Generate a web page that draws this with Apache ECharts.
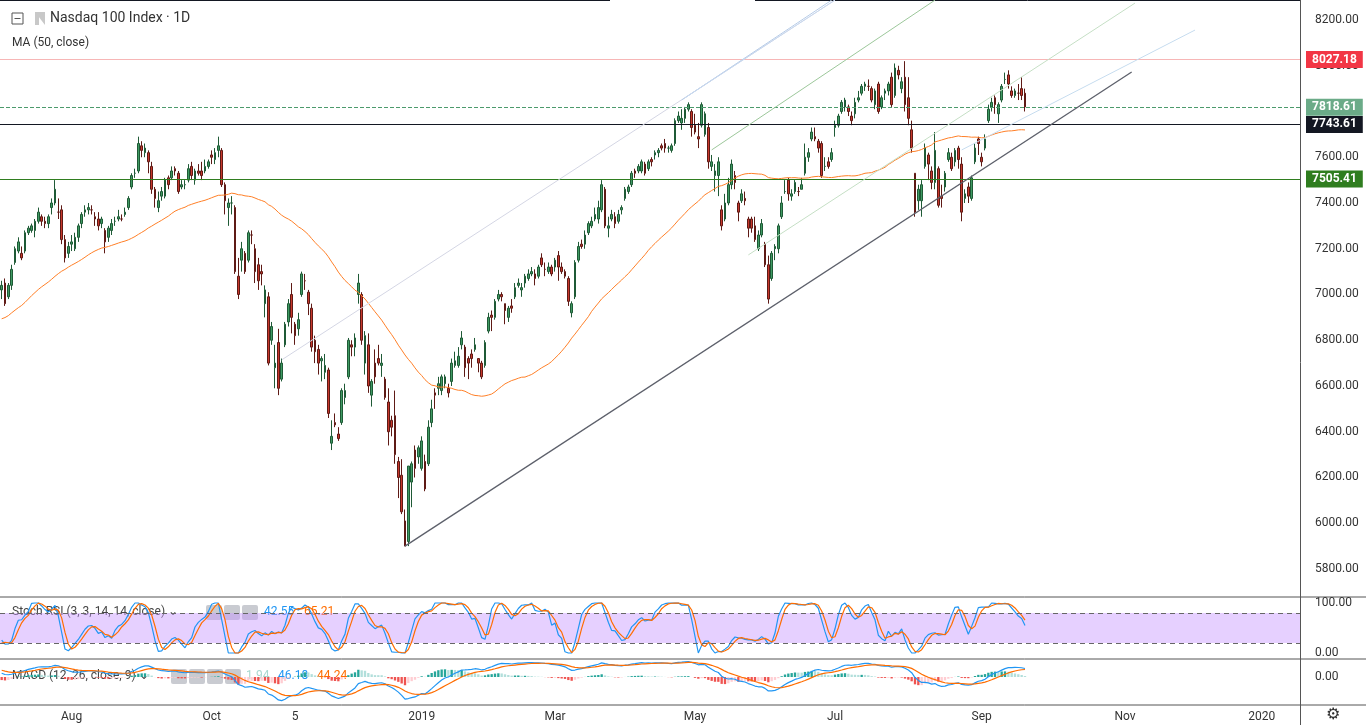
<!DOCTYPE html>
<html><head><meta charset="utf-8">
<script src="https://cdn.jsdelivr.net/npm/echarts@6/dist/echarts.min.js"></script>
<style>html,body{margin:0;padding:0;background:#fff}#c{width:1366px;height:725px}</style>
</head><body><div id="c"></div>
<script>
// closes before the visible window (only used for indicator warm-up)
const preCloses = [6780,6700,6690,6620,6500,6620,6680,6670,
6600,6560,6550,6650,6690,6740,6790,6810,6800,6810,6780,6710,6760,6720,6800,6860,6890,6900,6880,6860,6920,6930,
6970,7030,7080,7100,7060,7080,7080,7090,7160,7150,7180,7150,7190,7200,7200,7050,7060,6960,7000,7030,7040];
// daily [open, close, low, high]
const ohlc = [
[7020,7040,6980,7060],[7050,6960,6950,7070],[6990,7040,6980,7050],[7040,7110,7020,7130],
[7140,7200,7130,7210],[7190,7230,7180,7250],[7180,7160,7150,7210],[7190,7270,7180,7280],[7270,7290,7260,7300],
[7280,7300,7270,7310],[7280,7320,7250,7330],[7320,7360,7310,7380],[7340,7320,7300,7350],[7320,7310,7290,7340],
[7310,7340,7290,7350],[7380,7400,7350,7420],[7400,7460,7390,7500],[7360,7360,7330,7420],[7370,7240,7220,7390],
[7240,7160,7140,7260],[7180,7210,7160,7230],[7220,7230,7190,7260],[7200,7250,7190,7270],[7250,7300,7230,7310],
[7310,7350,7290,7360],[7360,7370,7340,7390],[7370,7380,7350,7400],[7370,7370,7350,7390],[7340,7330,7300,7360],
[7330,7300,7280,7360],[7310,7330,7290,7340],[7280,7230,7180,7290],[7250,7290,7230,7300],[7280,7310,7260,7330],
[7320,7320,7300,7340],[7330,7340,7320,7370],[7330,7330,7320,7350],[7350,7360,7340,7380],[7380,7420,7370,7430],
[7470,7520,7460,7530],[7530,7530,7510,7550],[7540,7660,7530,7690],[7650,7630,7600,7670],[7620,7640,7600,7660],
[7620,7580,7530,7630],[7560,7460,7440,7580],[7460,7420,7380,7470],[7380,7410,7360,7450],
[7430,7450,7410,7470],[7430,7500,7420,7510],[7510,7480,7460,7520],[7510,7540,7500,7560],[7550,7540,7520,7560],
[7530,7450,7440,7540],[7470,7480,7460,7500],[7480,7480,7460,7500],[7500,7550,7490,7570],[7560,7520,7500,7580],
[7500,7540,7480,7550],[7540,7530,7520,7570],[7540,7520,7500,7580],[7540,7560,7530,7590],[7560,7580,7550,7590],
[7610,7600,7570,7630],[7590,7620,7570,7640],[7630,7650,7600,7690],[7630,7480,7470,7640],[7480,7410,7350,7490],
[7380,7400,7300,7420],[7400,7400,7350,7430],[7380,7100,7090,7390],[7080,7000,6980,7160],[7150,7200,7100,7230],
[7180,7100,7090,7190],[7150,7270,7140,7280],[7260,7260,7220,7280],[7200,7100,7050,7220],[7130,7060,7020,7160],
[7100,7090,7040,7130],[6960,7020,6900,7040],[6990,6700,6690,7010],[6800,6860,6780,6880],[6680,6700,6590,6780],
[6790,6590,6560,6850],[6630,6700,6620,6720],[6780,6870,6770,6880],[6880,6960,6860,6980],[7000,6900,6830,7050],
[6870,6820,6780,6880],[6850,6890,6820,6920],[7000,7090,6990,7100],[7060,7060,7020,7090],[7010,6960,6910,7020],
[6940,6770,6750,6960],[6800,6750,6700,6820],[6760,6700,6650,6780],[6710,6720,6620,6730],[6660,6690,6630,6740],
[6670,6480,6460,6680],[6350,6380,6320,6450],[6440,6430,6420,6480],[6390,6370,6360,6420],
[6440,6580,6430,6590],[6550,6580,6520,6610],[6640,6800,6630,6810],[6780,6770,6730,6800],[6770,6810,6730,6830],
[7000,7050,6960,7090],[7000,6800,6780,7010],[6700,6820,6650,6840],[6780,6600,6570,6830],
[6560,6620,6510,6630],[6700,6640,6610,6760],[6720,6700,6690,6780],[6690,6700,6640,6740],[6630,6550,6540,6640],
[6530,6400,6340,6590],[6450,6420,6380,6470],[6470,6300,6260,6580],[6270,6200,6110,6290],[6210,6050,6040,6280],
[6010,5900,5900,6060],[5920,6250,5900,6250],[6180,6260,6070,6270],[6320,6240,6200,6340],
[6290,6330,6260,6340],
[6240,6360,6230,6380],[6270,6150,6140,6300],[6260,6420,6250,6450],
[6440,6500,6420,6540],[6570,6560,6500,6590],[6590,6610,6560,6640],[6580,6640,6560,6650],[6610,6640,6590,6650],
[6590,6570,6550,6610],[6620,6700,6600,6720],[6690,6710,6680,6750],[6690,6730,6680,6770],[6780,6810,6760,6840],
[6770,6680,6640,6780],[6720,6700,6630,6730],[6740,6720,6680,6760],[6760,6780,6750,6810],
[6720,6700,6660,6720],[6700,6640,6630,6710],[6690,6790,6680,6800],[6840,6900,6830,6920],[6910,6900,6840,6930],
[6900,6970,6890,6980],[6980,7000,6970,7020],[7000,6990,6970,7010],[6960,6930,6870,6960],[6900,6940,6880,6950],
[6950,6940,6920,6980],[6990,7030,6980,7050],[7040,7050,7030,7070],[7020,7030,6990,7050],[7050,7080,7030,7090],
[7070,7090,7060,7110],[7090,7100,7080,7120],[7090,7070,7040,7110],[7080,7120,7070,7130],
[7160,7130,7120,7180],[7110,7110,7080,7140],[7100,7120,7090,7140],[7120,7090,7080,7130],[7120,7150,7100,7160],
[7170,7120,7060,7190],[7120,7100,7090,7140],[7100,7080,7070,7110],[7070,6970,6950,7080],[6920,6960,6900,6970],
[6990,7140,6980,7150],[7150,7210,7140,7230],[7220,7210,7200,7240],[7220,7260,7200,7280],[7270,7310,7260,7320],
[7300,7320,7290,7340],[7330,7350,7320,7380],[7330,7380,7310,7410],[7370,7480,7360,7500],[7460,7300,7290,7470],
[7290,7300,7250,7340],[7330,7350,7320,7370],[7340,7310,7290,7360],[7320,7350,7310,7370],[7370,7380,7350,7390],
[7420,7460,7410,7470],[7450,7470,7440,7480],[7480,7530,7470,7540],[7540,7530,7510,7550],[7540,7560,7530,7570],
[7540,7580,7530,7590],[7570,7530,7520,7580],[7550,7580,7540,7590],[7590,7580,7560,7600],[7610,7620,7590,7630],
[7620,7630,7600,7640],[7650,7640,7630,7660],[7660,7640,7620,7680],[7640,7640,7620,7650],
[7630,7650,7620,7660],[7660,7760,7650,7770],[7760,7780,7750,7800],[7750,7770,7720,7810],[7770,7810,7750,7820],
[7810,7830,7800,7840],[7800,7730,7690,7810],[7740,7710,7700,7790],[7690,7680,7640,7750],[7740,7830,7730,7840],
[7700,7790,7690,7800],[7730,7580,7550,7750],[7560,7580,7540,7610],[7520,7540,7450,7570],[7520,7580,7430,7600],
[7370,7300,7280,7390],[7330,7400,7320,7440],[7400,7480,7390,7510],[7480,7570,7460,7590],[7520,7490,7460,7540],
[7400,7360,7320,7410],[7410,7440,7400,7460],[7420,7410,7390,7450],[7330,7290,7250,7340],[7330,7290,7270,7340],
[7300,7240,7230,7340],[7200,7260,7190,7280],[7260,7310,7250,7330],[7220,7130,7120,7230],
[7130,6980,6960,7170],[7070,7180,7060,7190],[7200,7210,7150,7220],[7200,7300,7180,7310],[7340,7400,7330,7430],
[7450,7450,7440,7500],[7500,7440,7410,7510],[7430,7440,7410,7460],[7450,7490,7440,7500],[7450,7450,7430,7470],
[7460,7480,7460,7510],[7530,7600,7520,7660],[7600,7620,7580,7640],[7680,7710,7670,7730],[7690,7680,7670,7730],
[7670,7640,7620,7680],[7660,7520,7510,7670],[7560,7560,7540,7600],[7580,7560,7550,7600],[7590,7620,7580,7640],
[7730,7740,7690,7760],[7740,7780,7730,7790],[7800,7840,7790,7850],[7820,7850,7800,7860],
[7820,7800,7780,7830],[7780,7760,7740,7800],[7790,7840,7770,7860],[7850,7860,7840,7890],[7880,7910,7870,7920],
[7910,7920,7890,7930],[7910,7910,7890,7940],[7900,7850,7840,7910],[7830,7890,7810,7900],[7920,7800,7790,7930],
[7820,7860,7810,7870],[7880,7890,7850,7900],[7890,7920,7870,7930],[7950,7830,7820,7970],[7870,7990,7860,8010],
[7980,7960,7940,8000],[7900,7930,7880,7950],[7950,7830,7800,8020],[7860,7770,7740,7950],[7720,7640,7620,7760],
[7530,7360,7340,7530],[7410,7460,7370,7480],[7410,7480,7340,7500],[7560,7640,7550,7660],[7610,7570,7500,7620],
[7540,7490,7460,7560],[7490,7630,7460,7710],[7550,7390,7380,7560],[7430,7420,7380,7480],[7470,7530,7450,7540],
[7590,7620,7580,7640],[7600,7550,7540,7620],[7580,7630,7560,7640],[7640,7590,7550,7650],[7570,7360,7320,7600],
[7420,7440,7400,7460],[7470,7430,7400,7490],[7420,7510,7410,7520],[7580,7640,7570,7660],[7680,7660,7610,7690],
[7600,7580,7560,7620],[7640,7680,7630,7700],[7760,7810,7750,7830],[7820,7840,7800,7860],
[7860,7830,7790,7870],[7790,7830,7750,7840],[7850,7910,7840,7920],[7940,7940,7920,7970],[7960,7920,7900,7980],
[7890,7870,7860,7910],[7870,7890,7860,7900],[7880,7880,7850,7920],[7900,7870,7850,7950],[7880,7820,7800,7900]
];
const priceLevels = [8027.18, 7818.61, 7743.61, 7505.41];
const tickDates = {'2018-08-01':'Aug','2018-10-01':'Oct','2018-11-05':'5','2019-01-02':'2019','2019-03-01':'Mar','2019-05-01':'May','2019-07-01':'Jul','2019-09-03':'Sep','2019-11-01':'Nov','2020-01-02':'2020'};
const holidays = ['2018-07-04','2018-09-03','2018-11-22','2018-12-05','2018-12-25','2019-01-01','2019-01-21','2019-02-18','2019-04-19','2019-05-27','2019-07-04','2019-09-02','2019-11-28','2019-12-25','2020-01-01'];
// trend / channel lines as [startIndex, startValue, endIndex, endValue]
const trendLines = [
 {pts:[121,5900,338.5,7973], color:'#5d606b', w:1.3},
 {pts:[83.5,6714,250,8287], color:'#d4d6e4', w:1},
 {pts:[203.5,7850,248.5,8287], color:'#b8cde8', w:1},
 {pts:[205,7860,250,8287], color:'#c9d9ef', w:1},
 {pts:[213,7632,280,8287], color:'#9cc79a', w:1},
 {pts:[224,7173,340,8274], color:'#c5dfc5', w:1},
 {pts:[287.5,7632,358,8156], color:'#c6dcef', w:1}
];

const TOTAL = 390;
const dates = [];
{
  const d = new Date(Date.UTC(2018,6,2));
  while (dates.length < TOTAL) {
    const s = d.toISOString().slice(0,10), wd = d.getUTCDay();
    if (wd!==0 && wd!==6 && holidays.indexOf(s)<0) dates.push(s);
    d.setUTCDate(d.getUTCDate()+1);
  }
}
const allC = preCloses.concat(ohlc.map(r=>r[1]));
const P = preCloses.length;
function sma(arr,n){return arr.map((v,i)=>{if(i<n-1||v==null)return null;let s=0;for(let j=i-n+1;j<=i;j++){if(arr[j]==null)return null;s+=arr[j];}return s/n;});}
function ema(arr,n){const k=2/(n+1);let out=[],prev=null;arr.forEach((v,i)=>{if(v==null){out.push(null);return;}prev=prev==null?v:v*k+prev*(1-k);out.push(prev);});return out;}
const ma50 = sma(allC,50).slice(P);
const rsi=[null];let ag=0,al=0;
for(let i=1;i<allC.length;i++){const ch=allC[i]-allC[i-1],g=Math.max(ch,0),l=Math.max(-ch,0);
 if(i<=14){ag+=g/14;al+=l/14;rsi.push(i<14?null:100-100/(1+ag/(al||1e-9)));}
 else{ag=(ag*13+g)/14;al=(al*13+l)/14;rsi.push(100-100/(1+ag/(al||1e-9)));}}
const st=rsi.map((v,i)=>{if(v==null||i<27)return null;let mn=1e9,mx=-1e9;for(let j=i-13;j<=i;j++){mn=Math.min(mn,rsi[j]);mx=Math.max(mx,rsi[j]);}return mx===mn?50:(v-mn)/(mx-mn)*100;});
const kL=sma(st,3), dL=sma(kL,3);
const e12=ema(allC,12), e26=ema(allC,26);
const macd=e12.map((v,i)=>v-e26[i]); const sig=ema(macd,9);
const hist=macd.map((v,i)=>v-sig[i]);
const K=kL.slice(P),D=dL.slice(P),M=macd.slice(P),S=sig.slice(P),H=hist.slice(P);
const histData=H.map((v,i)=>({value:v,itemStyle:{color: v>=0?(i>0&&v<H[i-1]?'#b2dfdb':'#26a69a'):(i>0&&v>H[i-1]?'#ffcdd2':'#ef5350')}}));

const levelStyle=[
 {c:'#f7b6b6',bg:'#f23645',type:'solid'},
 {c:'#4c9a6c',bg:'#6bab88',type:'dashed'},
 {c:'#131722',bg:'#131722',type:'solid'},
 {c:'#2f7d1f',bg:'#2f7d1f',type:'solid'}];
const mlData = priceLevels.map((v,i)=>({yAxis:v,lineStyle:{color:levelStyle[i].c,type:levelStyle[i].type,width:1},
  label:{show:true,position:'end',distance:6,formatter:v.toFixed(2),color:'#fff',fontWeight:'bold',fontSize:12,backgroundColor:levelStyle[i].bg,padding:[3,6,2,6],fontFamily:'Roboto'}}))
 .concat(trendLines.map(t=>[{coord:[t.pts[0],t.pts[1]],lineStyle:{color:t.color,width:t.w,type:'solid'},label:{show:false}},{coord:[t.pts[2],t.pts[3]]}]));

const chart = echarts.init(document.getElementById('c'));
const txt = {color:'#333',fontSize:12,fontFamily:'Roboto'};
const icon = x=>({type:'rect',shape:{x:x,y:605,width:16,height:15,r:2},style:{fill:'#c9cbd1'}});
const icon2 = x=>({type:'rect',shape:{x:x,y:669,width:16,height:15,r:2},style:{fill:'#c9cbd1'}});
chart.setOption({
 animation:false,
 textStyle:{fontFamily:'Roboto'},
 grid:[{left:0,right:66,top:0,bottom:110.25},{left:0,right:66,top:598,height:60},{left:0,right:66,top:660,height:45}],
 xAxis:[0,1,2].map(g=>({type:'category',gridIndex:g,data:dates,boundaryGap:true,
   axisLine:{show:false},axisTick:{show:false},splitLine:{show:false},
   axisLabel:g===2?{show:true,...txt,margin:6,interval:(i,v)=>tickDates[v]!==undefined,formatter:v=>tickDates[v]||''}:{show:false}})),
 yAxis:[
  {gridIndex:0,position:'right',min:5600,max:8287.4,interval:100,splitLine:{show:false},axisLine:{show:false},axisTick:{show:false},
   axisLabel:{...txt,margin:15,showMaxLabel:false,formatter:v=>(v<5800||v>8200||Math.round(v)%200!==0)?'':v.toFixed(2)}},
  {gridIndex:1,position:'right',min:-10,max:110,interval:10,splitLine:{show:false},axisLine:{show:false},axisTick:{show:false},
   axisLabel:{...txt,margin:15,formatter:v=>(v===0||v===100)?v.toFixed(2):''}},
  {gridIndex:2,position:'right',min:-230,max:140,interval:10,splitLine:{show:false},axisLine:{show:false},axisTick:{show:false},
   axisLabel:{...txt,margin:15,formatter:v=>v===0?'0.00':''}}
 ],
 series:[
  {type:'candlestick',xAxisIndex:0,yAxisIndex:0,data:ohlc,barWidth:'62%',
   itemStyle:{color:'#3f9a63',color0:'#c7372b',borderColor:'#1f5a36',borderColor0:'#5e1a15',borderWidth:1},
   markLine:{silent:true,symbol:'none',data:mlData}},
  {type:'line',xAxisIndex:0,yAxisIndex:0,data:ma50,showSymbol:false,lineStyle:{color:'#ff7f27',width:1},z:3},
  {type:'line',xAxisIndex:1,yAxisIndex:1,data:K,showSymbol:false,lineStyle:{color:'#2196f3',width:1.2},
   markArea:{silent:true,itemStyle:{color:'rgba(200,150,255,0.45)'},data:[[{yAxis:20},{yAxis:80}]]},
   markLine:{silent:true,symbol:'none',label:{show:false},lineStyle:{color:'#666',type:[5,4],width:1},data:[{yAxis:20},{yAxis:80}]}},
  {type:'line',xAxisIndex:1,yAxisIndex:1,data:D,showSymbol:false,lineStyle:{color:'#ff6d00',width:1.2}},
  {type:'bar',xAxisIndex:2,yAxisIndex:2,data:histData,barWidth:'70%'},
  {type:'line',xAxisIndex:2,yAxisIndex:2,data:M,showSymbol:false,lineStyle:{color:'#2196f3',width:1.2}},
  {type:'line',xAxisIndex:2,yAxisIndex:2,data:S,showSymbol:false,lineStyle:{color:'#ff6d00',width:1.2}}
 ],
 graphic:[
  {type:'line',shape:{x1:0,y1:597,x2:1366,y2:597},style:{stroke:'#555',lineWidth:1}},
  {type:'line',shape:{x1:0,y1:659,x2:1366,y2:659},style:{stroke:'#555',lineWidth:1}},
  {type:'line',shape:{x1:0,y1:705,x2:1366,y2:705},style:{stroke:'#555',lineWidth:1}},
  {type:'line',shape:{x1:1300.5,y1:0,x2:1300.5,y2:725},style:{stroke:'#555',lineWidth:1}},
  {type:'line',shape:{x1:0,y1:0.5,x2:610,y2:0.5},style:{stroke:'#131722',lineWidth:1}},
  {type:'line',shape:{x1:755,y1:0.5,x2:1300,y2:0.5},style:{stroke:'#131722',lineWidth:1}},
  {type:'rect',shape:{x:12,y:13,width:11,height:11},style:{fill:'#fff',stroke:'#555',lineWidth:1}},
  {type:'line',shape:{x1:14.5,y1:18.5,x2:20.5,y2:18.5},style:{stroke:'#555',lineWidth:1}},
  {type:'polygon',shape:{points:[[35,12],[45,12],[45,25]]},style:{fill:'#c8c8c8'}},
  {type:'rect',shape:{x:35,y:12,width:4,height:13},style:{fill:'#c8c8c8'}},
  {type:'text',left:50,top:11,style:{text:'Nasdaq 100 Index · 1D',fill:'#333',font:'14px Roboto'}},
  {type:'text',left:12,top:37,style:{text:'MA (50, close)',fill:'#333',font:'12px Roboto'}},
  icon(206),icon(224),icon(242),
  icon2(171),icon2(189),icon2(207),icon2(225),
  {type:'text',left:12,top:606,style:{text:'Stoch RSI (3, 3, 14, 14, close) ⌄',fill:'#444',font:'12px Roboto'}},
  {type:'text',left:264,top:606,style:{text:'42.55',fill:'#2196f3',font:'12px Roboto'}},
  {type:'text',left:304,top:606,style:{text:'65.21',fill:'#ff6d00',font:'12px Roboto'}},
  {type:'text',left:12,top:670,style:{text:'MACD (12, 26, close, 9) ⌄',fill:'#444',font:'12px Roboto'}},
  {type:'text',left:246,top:670,style:{text:'1.94',fill:'#a8d8cf',font:'12px Roboto'}},
  {type:'text',left:278,top:670,style:{text:'46.18',fill:'#2196f3',font:'12px Roboto'}},
  {type:'text',left:317,top:670,style:{text:'44.24',fill:'#ff6d00',font:'12px Roboto'}},
  {type:'text',left:1326,top:707,style:{text:'⚙',fill:'#333',font:'16px DejaVu Sans'}}
 ]
});
</script></body></html>
